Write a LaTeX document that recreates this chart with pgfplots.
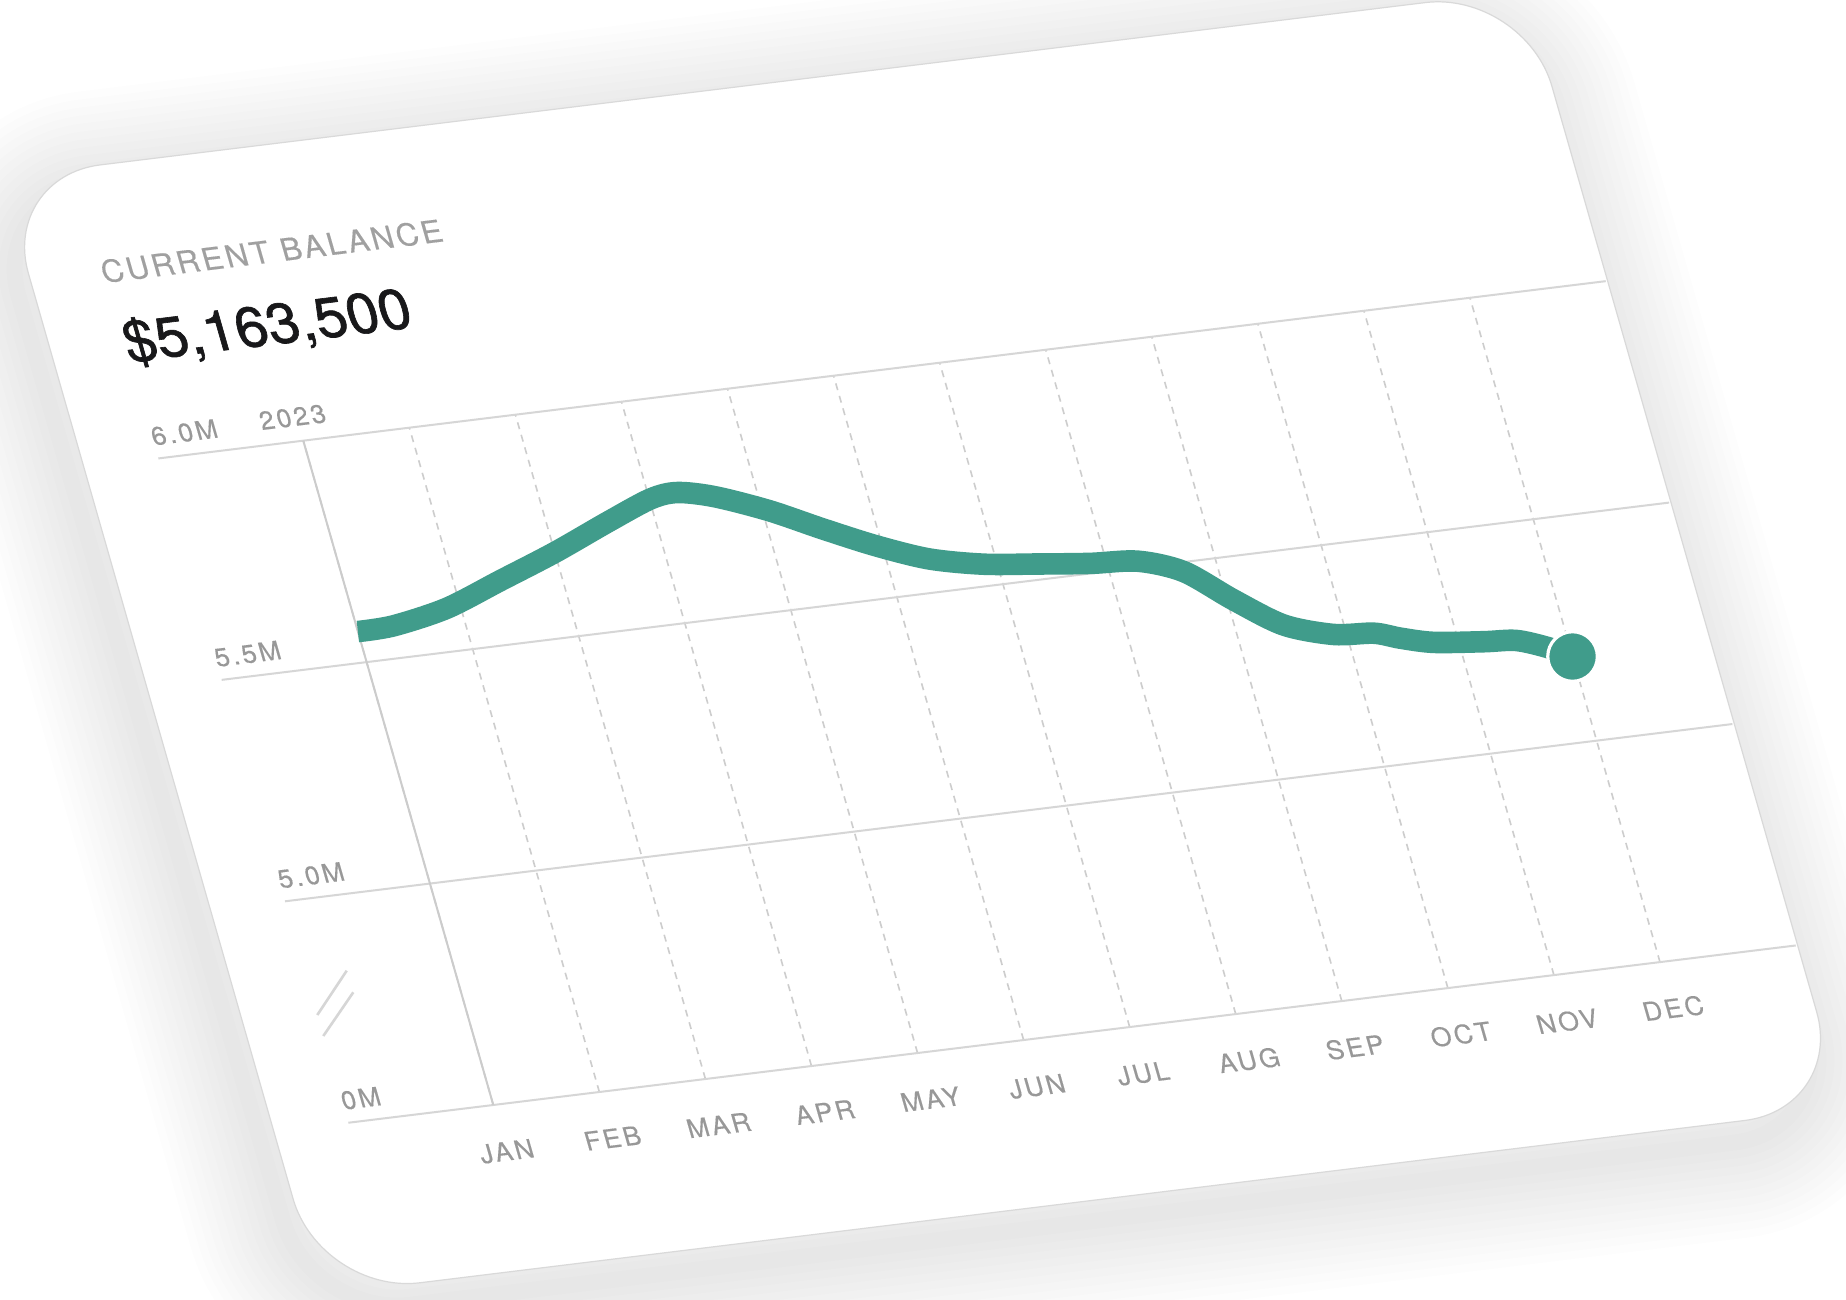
\documentclass[border=0pt]{standalone}
\usepackage{fontspec}
\setmainfont{TeX Gyre Heros}
\newfontfamily\spaced[LetterSpace=10,FakeBold=0.35]{TeX Gyre Heros}
\newfontfamily\headfont[LetterSpace=9,FakeBold=0.3]{TeX Gyre Heros}
\newfontfamily\numfont[FakeBold=1.1]{TeX Gyre Heros}
\usepackage{pgfplots}
\pgfplotsset{compat=1.18}
\definecolor{linecol}{RGB}{64,156,139}
\definecolor{gridgray}{RGB}{214,214,214}
\definecolor{dashgray}{RGB}{205,205,205}
\definecolor{axisgray}{RGB}{204,204,204}
\definecolor{labelgray}{RGB}{152,152,152}
\definecolor{headgray}{RGB}{160,160,160}
\definecolor{numblack}{RGB}{24,24,26}
\tikzset{card/.style={cm={0.9926,0.1216,-0.2750,0.9615,(0pt,0pt)}}}
\newcommand{\cardpath}{(-121,-169.6) -- (1214,-169.6) .. controls (1269.2,-169.6) and (1314,-124.8) .. (1314,-69.6) -- (1314,893) .. controls (1314,948.2) and (1269.2,993) .. (1214,993) -- (-121,993) .. controls (-176.2,993) and (-221,948.2) .. (-221,893) -- (-221,-69.6) .. controls (-221,-124.8) and (-176.2,-169.6) .. (-121,-169.6) -- cycle}
\begin{document}
\begin{tikzpicture}[x=0.5pt,y=0.5pt]
\useasboundingbox (0,0) rectangle (1846,1300);
\begin{scope}
\clip (0,0) rectangle (1846,1300);
\fill[white] (0,0) rectangle (1846,1300);
% shadow
\begin{scope}[shift={(-10,-22)}, cm={0.9926,0.1216,-0.2750,0.9615,(493.3,195)}]
\foreach \w in {1,...,12} {
  \draw[black, opacity=0.0085, line width=\w*8pt, line join=round] \cardpath;
}
\end{scope}
% card
\begin{scope}[cm={0.9926,0.1216,-0.2750,0.9615,(493.3,195)}]
\fill[white] \cardpath;
\draw[gray!30, line width=0.6pt] \cardpath;
\end{scope}
% header texts
\node[card, anchor=base west, inner sep=0pt, text=headgray, font=\headfont\fontsize{15.6}{17}\selectfont] at (104,1017) {CURRENT BALANCE};
\node[card, anchor=base west, inner sep=0pt, text=numblack, font=\numfont\fontsize{28.8}{32}\selectfont] at (129,938) {\$5,163,500};
% axis break marks
\draw[gridgray, line width=1.3pt] (346.7,329.3) -- (317.3,285);
\draw[gridgray, line width=1.3pt] (353.3,307.7) -- (323.3,264);
\begin{axis}[
  at={(246.65pt,97.5pt)}, anchor=origin,
  x={(53.03pt,6.495pt)}, y={(-63.335pt,221.435pt)},
  xmin=-1.367, xmax=12.28, ymin=4.5, ymax=6.0,
  clip=false,
  axis line style={draw=none},
  major tick length=0pt,
  xtick={0,...,11},
  xticklabels={JAN,FEB,MAR,APR,MAY,JUN,JUL,AUG,SEP,OCT,NOV,DEC},
  ytick={4.5,5,5.5,6},
  yticklabels={0M,5.0M,5.5M,6.0M},
  xmajorgrids, ymajorgrids,
  x grid style={dashgray, line width=0.8pt, dash pattern=on 3.5pt off 3pt},
  y grid style={gridgray, line width=1pt},
  xticklabel style={card, anchor=base, inner sep=0pt, yshift=-28.8pt, font=\spaced\fontsize{13.1}{14}\selectfont, text=labelgray},
  yticklabel style={card, anchor=base west, inner sep=0pt, xshift=-0.5pt, yshift=6.8pt, font=\spaced\fontsize{13.1}{14}\selectfont, text=labelgray},
]
\draw[axisgray, line width=1pt] (axis cs:0,4.5) -- (axis cs:0,6);
\node[card, anchor=base, inner sep=0pt, xshift=-2pt, yshift=7.9pt, text=labelgray, font=\spaced\fontsize{13.1}{14}\selectfont] at (axis cs:0,6) {2023};
\addplot[linecol, line width=10.8pt, smooth, line cap=butt, line join=round] coordinates {
(0.00,5.569) (0.34,5.572) (0.87,5.596) (1.43,5.642) (2.00,5.689) (2.56,5.741)
(3.01,5.780) (3.27,5.787) (3.60,5.768) (4.06,5.723) (4.50,5.669) (4.94,5.618)
(5.39,5.575) (5.87,5.549) (6.36,5.535) (6.85,5.522) (7.29,5.514) (7.68,5.479)
(8.06,5.404) (8.45,5.336) (8.88,5.302) (9.25,5.294) (9.48,5.276) (9.77,5.258)
(10.23,5.246) (10.53,5.240) (10.80,5.216) (11.00,5.190)
};
\addplot[only marks, mark=*, mark size=12.4pt, mark options={fill=linecol, draw=white, line width=1.6pt}] coordinates {(11.00,5.190)};
\end{axis}
\end{scope}
\end{tikzpicture}
\end{document}
